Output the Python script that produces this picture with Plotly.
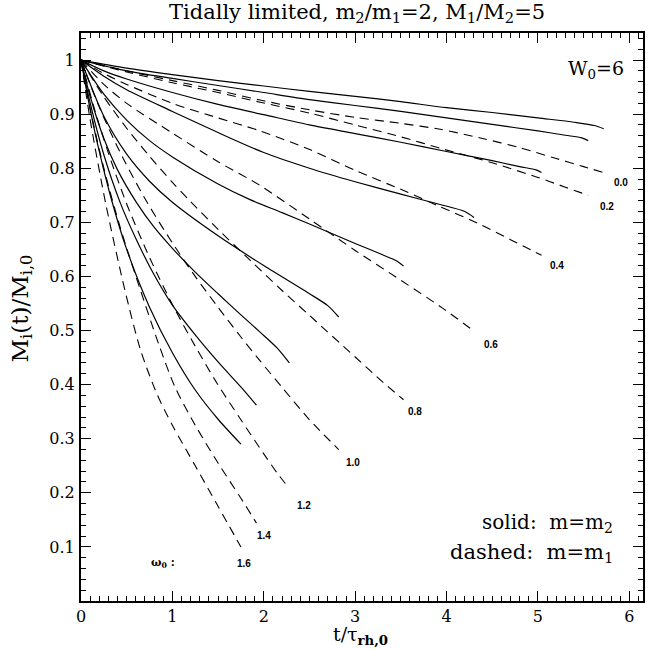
import plotly.graph_objects as go

# ---------------- data ----------------
omega_labels = ["0.0", "0.2", "0.4", "0.6", "0.8", "1.0", "1.2", "1.4", "1.6"]

# solid: m = m2
solid_t = [
    [0, 0.5, 1, 1.5, 2, 2.5, 3, 3.5, 4, 4.5, 5, 5.4, 5.62, 5.72],
    [0, 0.5, 1, 1.5, 2, 2.5, 3, 3.5, 4, 4.5, 5, 5.3, 5.48, 5.55],
    [0, 0.25, 0.5, 1, 1.5, 2, 2.5, 3, 3.5, 4, 4.5, 4.8, 4.98, 5.04],
    [0, 0.25, 0.5, 1, 1.5, 2, 2.5, 3, 3.5, 3.93, 4.2, 4.30],
    [0, 0.25, 0.5, 0.75, 1, 1.5, 1.85, 2.2, 2.5, 3.0, 3.3, 3.45, 3.53],
    [0, 0.25, 0.5, 0.75, 1, 1.5, 2, 2.5, 2.7, 2.82],
    [0, 0.1, 0.25, 0.4, 0.61, 0.8, 1.0, 1.25, 1.5, 1.75, 1.96, 2.15, 2.28],
    [0, 0.1, 0.25, 0.43, 0.6, 0.8, 1.0, 1.25, 1.5, 1.78, 1.92],
    [0, 0.1, 0.2, 0.34, 0.5, 0.75, 1.0, 1.25, 1.5, 1.75],
]
solid_y = [
    [1, 0.985, 0.973, 0.962, 0.952, 0.942, 0.933, 0.923, 0.912, 0.903, 0.893, 0.885, 0.879, 0.873],
    [1, 0.980, 0.966, 0.953, 0.940, 0.927, 0.916, 0.905, 0.893, 0.881, 0.869, 0.861, 0.856, 0.851],
    [1, 0.980, 0.965, 0.940, 0.918, 0.899, 0.880, 0.864, 0.848, 0.831, 0.814, 0.803, 0.797, 0.792],
    [1, 0.970, 0.945, 0.905, 0.866, 0.829, 0.800, 0.775, 0.752, 0.733, 0.720, 0.709],
    [1, 0.937, 0.889, 0.851, 0.821, 0.771, 0.742, 0.718, 0.697, 0.661, 0.640, 0.629, 0.619],
    [1, 0.896, 0.826, 0.776, 0.737, 0.675, 0.620, 0.568, 0.546, 0.525],
    [1, 0.933, 0.855, 0.797, 0.736, 0.691, 0.652, 0.608, 0.568, 0.529, 0.497, 0.467, 0.440],
    [1, 0.921, 0.825, 0.736, 0.670, 0.603, 0.547, 0.492, 0.442, 0.390, 0.362],
    [1, 0.909, 0.831, 0.738, 0.650, 0.543, 0.459, 0.390, 0.336, 0.290],
]

# dashed: m = m1
dashed_t = [
    [0, 0.5, 1.0, 1.5, 1.96, 2.5, 3.0, 3.5, 3.93, 4.37, 4.8, 5.2, 5.5, 5.72],
    [0, 0.5, 1.0, 1.5, 1.96, 2.5, 3.0, 3.5, 3.93, 4.5, 5.0, 5.3, 5.55],
    [0, 0.25, 0.5, 1.0, 1.5, 1.96, 2.51, 3.0, 3.5, 3.93, 4.37, 4.7, 5.04],
    [0, 0.25, 0.5, 1.0, 1.5, 1.96, 2.51, 3.0, 3.5, 3.96, 4.30],
    [0, 0.25, 0.5, 0.75, 1.0, 1.19, 1.5, 1.85, 2.2, 2.5, 3.0, 3.3, 3.53],
    [0, 0.2, 0.45, 0.72, 1.0, 1.25, 1.5, 1.75, 1.94, 2.2, 2.5, 2.82],
    [0, 0.15, 0.3, 0.5, 0.75, 1.0, 1.25, 1.49, 1.75, 2.0, 2.14, 2.28],
    [0, 0.1, 0.25, 0.43, 0.65, 0.85, 1.03, 1.25, 1.5, 1.75, 1.92],
    [0, 0.1, 0.27, 0.48, 0.65, 0.83, 1.0, 1.25, 1.5, 1.75],
]
dashed_y = [
    [1, 0.980, 0.962, 0.944, 0.926, 0.908, 0.894, 0.883, 0.872, 0.856, 0.838, 0.818, 0.803, 0.792],
    [1, 0.978, 0.958, 0.940, 0.922, 0.902, 0.880, 0.858, 0.837, 0.810, 0.783, 0.765, 0.750],
    [1, 0.975, 0.955, 0.920, 0.893, 0.869, 0.834, 0.796, 0.761, 0.729, 0.696, 0.668, 0.639],
    [1, 0.955, 0.920, 0.865, 0.812, 0.768, 0.705, 0.648, 0.593, 0.541, 0.499],
    [1, 0.932, 0.874, 0.822, 0.774, 0.740, 0.687, 0.630, 0.574, 0.528, 0.451, 0.405, 0.372],
    [1, 0.913, 0.822, 0.738, 0.662, 0.600, 0.543, 0.488, 0.448, 0.395, 0.335, 0.280],
    [1, 0.908, 0.828, 0.734, 0.635, 0.548, 0.471, 0.402, 0.335, 0.272, 0.238, 0.208],
    [1, 0.910, 0.800, 0.690, 0.575, 0.475, 0.395, 0.325, 0.255, 0.190, 0.144],
    [1, 0.890, 0.735, 0.575, 0.465, 0.383, 0.325, 0.250, 0.175, 0.100],
]

x_tick_vals = [0, 1, 2, 3, 4, 5, 6]
y_tick_vals = [0.1, 0.2, 0.3, 0.4, 0.5, 0.6, 0.7, 0.8, 0.9, 1.0]
y_tick_text = ["0.1", "0.2", "0.3", "0.4", "0.5", "0.6", "0.7", "0.8", "0.9", "1"]

# ---------------- style ----------------
SERIF = "DejaVu Serif"
SANS = "Liberation Sans"
label_dx = [8, 10, 6, 8, 2, 5, 6, -1, -6]        # px, left edge of label vs curve end
label_dy = [10, 11, 10, 13, 12, 13, 17, 12, 17]  # px, label centre below curve end

fig = go.Figure()
for t, y in zip(solid_t, solid_y):
    fig.add_trace(go.Scatter(x=t, y=y, mode="lines",
                             line=dict(color="black", width=1.2, shape="spline", smoothing=0.8),
                             showlegend=False, hoverinfo="skip"))
for t, y in zip(dashed_t, dashed_y):
    fig.add_trace(go.Scatter(x=t, y=y, mode="lines",
                             line=dict(color="black", width=1.1, dash="9px,6px", shape="spline", smoothing=0.8),
                             showlegend=False, hoverinfo="skip"))

for i, lab in enumerate(omega_labels):
    fig.add_annotation(x=dashed_t[i][-1], y=dashed_y[i][-1], text="<b>" + lab + "</b>", showarrow=False,
                       xanchor="left", yanchor="middle", xshift=label_dx[i], yshift=-label_dy[i],
                       font=dict(family=SANS, size=10, color="black"))

fig.add_annotation(x=0.9, y=0.07, text="<b>ω<sub>0</sub> :</b>", showarrow=False, xanchor="center", yanchor="middle",
                   font=dict(family=SERIF, size=11, color="black"))
fig.add_annotation(xref="paper", yref="paper", x=0.97, y=0.935, text="W<sub>0</sub>=6", showarrow=False,
                   xanchor="right", yanchor="middle", font=dict(family=SERIF, size=19, color="black"))
fig.add_annotation(xref="paper", yref="paper", x=0.95, y=0.138, text="solid:  m=m<sub>2</sub>", showarrow=False,
                   xanchor="right", yanchor="middle", font=dict(family=SERIF, size=20, color="black"))
fig.add_annotation(xref="paper", yref="paper", x=0.95, y=0.085, text="dashed:  m=m<sub>1</sub>", showarrow=False,
                   xanchor="right", yanchor="middle", font=dict(family=SERIF, size=21, color="black"))
# axis titles and title
fig.add_annotation(xref="paper", yref="paper", x=0.497, y=-0.06,
                   text="t/τ<sub><b>rh,0</b></sub>", showarrow=False,
                   xanchor="center", yanchor="middle", font=dict(family=SERIF, size=19, color="black"))
fig.add_annotation(xref="paper", yref="paper", x=-0.105, y=0.515, text="M<sub>i</sub>(t)/M<sub>i,0</sub>",
                   showarrow=False, textangle=-90, xanchor="center", yanchor="middle",
                   font=dict(family=SERIF, size=23, color="black"))
fig.add_annotation(xref="paper", yref="paper", x=0.491, y=1.035,
                   text="Tidally limited, m<sub>2</sub>/m<sub>1</sub>=2, M<sub>1</sub>/M<sub>2</sub>=5",
                   showarrow=False, xanchor="center", yanchor="middle",
                   font=dict(family=SERIF, size=21, color="black"))

axis_common = dict(showgrid=False, zeroline=False, showline=True, linecolor="black", linewidth=2,
                   ticks="inside", tickcolor="black", tickwidth=1, ticklen=10, mirror="allticks",
                   automargin=False, tickfont=dict(family=SERIF, size=16, color="black"))
fig.update_xaxes(range=[0, 6.15], tickvals=x_tick_vals,
                 minor=dict(dtick=0.1, ticks="inside", ticklen=5, tickcolor="black", tickwidth=1),
                 **axis_common)
fig.update_yaxes(range=[0, 1.05], tickvals=y_tick_vals, ticktext=y_tick_text, ticklabelstandoff=1,
                 minor=dict(dtick=0.02, ticks="inside", ticklen=5, tickcolor="black", tickwidth=1),
                 **axis_common)

fig.update_layout(
    width=650, height=649, plot_bgcolor="white", paper_bgcolor="white",
    margin=dict(l=81, r=7, t=33, b=48, autoexpand=False),
)

# remove the default 8px page-body margin so the figure sits at the window's top-left corner
fig.write_html("out.html", config={"displayModeBar": False},
               post_script="document.body.style.margin='0px';")
